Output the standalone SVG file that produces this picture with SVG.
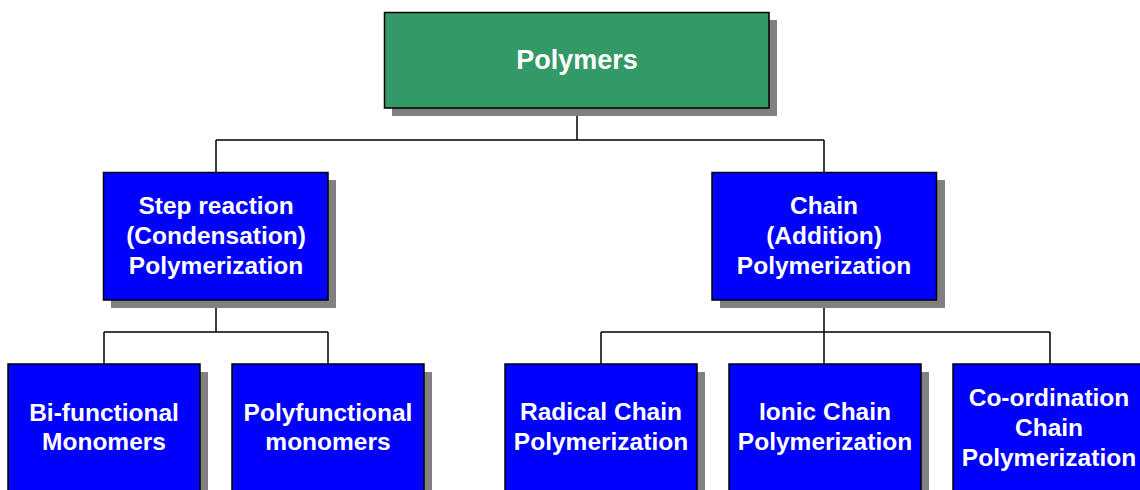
<svg xmlns="http://www.w3.org/2000/svg" width="1140" height="490" viewBox="0 0 1140 490">
<style>
.sh{fill:#808080}
.bx{stroke:#000;stroke-width:1.5}
.blue{fill:#0000FF}
.green{fill:#339966}
text{font-family:"Liberation Sans",Arial,sans-serif;font-weight:bold;fill:#fff;text-anchor:middle;font-size:24.5px}
.big{font-size:27px}
.cn{fill:none;stroke:#000;stroke-width:1.5}
</style>
<rect width="1140" height="490" fill="#fff"/>
<g id="connectors">
<path class="cn" d="M577,108V140M216,140H824M216,140V172M824,140V172"/>
<path class="cn" d="M216,300V332M104,332H328M104,332V364M328,332V364"/>
<path class="cn" d="M824,300V364M601,332H1050M601,332V364M1050,332V364"/>
</g>
<g id="polymers">
<rect class="sh" x="392" y="20" width="385" height="96"/>
<rect class="bx green" x="384.5" y="12.5" width="384.5" height="95.5"/>
<text class="big" x="577" y="69">Polymers</text>
</g>
<g id="step">
<rect class="sh" x="111" y="180" width="225" height="128"/>
<rect class="bx blue" x="103.5" y="172.5" width="224.5" height="127.5"/>
<text x="216" y="214">Step reaction</text>
<text x="216" y="244">(Condensation)</text>
<text x="216" y="274">Polymerization</text>
</g>
<g id="chain">
<rect class="sh" x="720" y="180" width="225" height="128"/>
<rect class="bx blue" x="712" y="172.5" width="224.5" height="127.5"/>
<text x="824" y="214">Chain</text>
<text x="824" y="244">(Addition)</text>
<text x="824" y="274">Polymerization</text>
</g>
<g id="bifunctional">
<rect class="sh" x="16" y="372" width="192" height="130"/>
<rect class="bx blue" x="8" y="364" width="192" height="130"/>
<text x="104" y="421">Bi-functional</text>
<text x="104" y="450">Monomers</text>
</g>
<g id="polyfunctional">
<rect class="sh" x="240" y="372" width="192" height="130"/>
<rect class="bx blue" x="232" y="364" width="192" height="130"/>
<text x="328" y="421">Polyfunctional</text>
<text x="328" y="450">monomers</text>
</g>
<g id="radical">
<rect class="sh" x="513" y="372" width="192" height="130"/>
<rect class="bx blue" x="505" y="364" width="192" height="130"/>
<text x="601" y="420">Radical Chain</text>
<text x="601" y="450">Polymerization</text>
</g>
<g id="ionic">
<rect class="sh" x="737" y="372" width="192" height="130"/>
<rect class="bx blue" x="729" y="364" width="192" height="130"/>
<text x="825" y="420">Ionic Chain</text>
<text x="825" y="450">Polymerization</text>
</g>
<g id="coordination">
<rect class="sh" x="961" y="372" width="192" height="130"/>
<rect class="bx blue" x="953" y="364" width="192" height="130"/>
<text x="1049" y="406">Co-ordination</text>
<text x="1049" y="436">Chain</text>
<text x="1049" y="466">Polymerization</text>
</g>
</svg>
